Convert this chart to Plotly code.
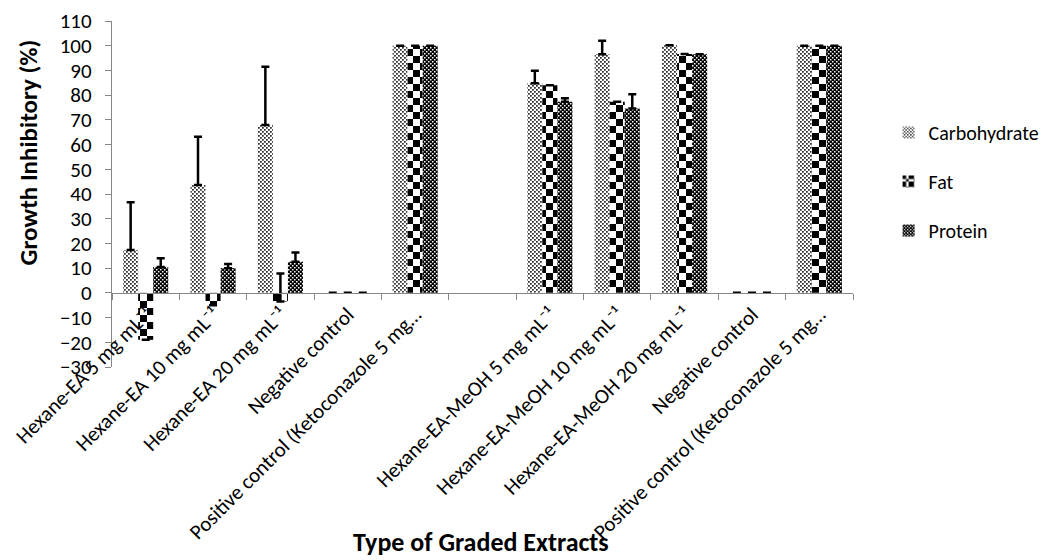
import plotly.graph_objects as go

categories = [
    "Hexane-EA 5 mg mL⁻¹",
    "Hexane-EA 10 mg mL⁻¹",
    "Hexane-EA 20 mg mL⁻¹",
    "Negative control",
    "Positive control (Ketoconazole 5 mg…",
    "\u200b",
    "Hexane-EA-MeOH 5 mg mL⁻¹",
    "Hexane-EA-MeOH 10 mg mL⁻¹",
    "Hexane-EA-MeOH 20 mg mL⁻¹",
    "Negative control\u200b",
    "Positive control (Ketoconazole 5 mg…\u200b",
]

carbohydrate = [17.3, 43.6, 67.9, 0, 100, None, 84.8, 96.5, 100.2, 0, 100]
carbohydrate_err = [19.4, 19.6, 23.6, None, 0, None, 5.1, 5.5, 0, None, 0]
fat = [-19.0, -5.0, -3.5, 0, 100, None, 84.0, 77.3, 96.6, 0, 100]
fat_err = [0, 0, 11.3, None, 0, None, 0, 0, 0, None, 0]
protein = [10.5, 10.0, 12.6, 0, 100, None, 77.3, 74.6, 96.5, 0, 100]
protein_err = [3.5, 1.7, 3.7, None, 0, None, 1.4, 5.8, 0, None, 0]

y_ticks = list(range(-30, 111, 10))
Y_MIN, Y_MAX = -30, 110


def checker(s, h):
    return f"M0,0H{h}V{h}H0Z M{s/2},{s/2}H{s/2+h}V{s/2+h}H{s/2}Z"


series = [
    ("Carbohydrate", carbohydrate, carbohydrate_err,
     dict(path=checker(4, 1.8), size=4, fgcolor="#000000", bgcolor="#ffffff", fgopacity=0.8)),
    ("Fat", fat, fat_err,
     dict(path=checker(14, 7), size=14, fgcolor="#000000", bgcolor="#ffffff", fgopacity=1)),
    ("Protein", protein, protein_err,
     dict(path=checker(4, 1.5), size=4, fgcolor="#ffffff", bgcolor="#000000", fgopacity=1)),
]

fig = go.Figure()
for i, (name, vals, errs, pat) in enumerate(series):
    fig.add_trace(go.Bar(
        name=name, x=categories, y=vals, legendgroup=f"g{i}",
        marker=dict(color="#ffffff", line=dict(width=0), pattern=pat),
        error_y=dict(type="data", array=errs, arrayminus=[0] * len(errs), symmetric=False,
                     color="#000000", thickness=2.5, width=4),
    ))

zero_pos = (0 - Y_MIN) / (Y_MAX - Y_MIN)

fig.update_layout(
    width=1049, height=560,
    paper_bgcolor="white", plot_bgcolor="white",
    margin=dict(l=112, r=196, t=21, b=193, autoexpand=False),
    barmode="group", bargap=0.33, bargroupgap=0,
    font=dict(family="Carlito, Lato, sans-serif", color="#000000"),
    legend=dict(x=1.048, y=0.734, xanchor="left", yanchor="top", font=dict(size=20),
                tracegroupgap=20, itemwidth=30),
    xaxis=dict(
        type="category", categoryorder="array", categoryarray=categories,
        anchor="free", position=zero_pos,
        tickangle=-45, tickfont=dict(size=21), tickson="boundaries",
        ticks="outside", ticklen=6, tickcolor="#868686", tickwidth=1.3,
        showline=True, linecolor="#868686", linewidth=1.3,
        showgrid=False, automargin=False,
    ),
    yaxis=dict(
        range=[Y_MIN, Y_MAX], tickvals=y_ticks, tickfont=dict(size=21),
        ticks="outside", ticklen=6, tickcolor="#868686", tickwidth=1.3,
        ticklabelstandoff=9,
        showline=True, linecolor="#868686", linewidth=1.3,
        showgrid=False, zeroline=False, automargin=False,
    ),
    annotations=[
        dict(text="<b>Type of Graded Extracts</b>", xref="paper", yref="paper",
             x=0.498, y=-0.558, xanchor="center", yanchor="bottom",
             showarrow=False, font=dict(size=26)),
        dict(text="<b>Growth Inhibitory (%)</b>", xref="paper", yref="paper",
             x=-0.113, y=0.621, xanchor="center", yanchor="middle", textangle=-90,
             showarrow=False, font=dict(size=25)),
    ],
)

fig.write_html("out.html", config={"displayModeBar": False},
               post_script="document.body.style.margin='0px';")
